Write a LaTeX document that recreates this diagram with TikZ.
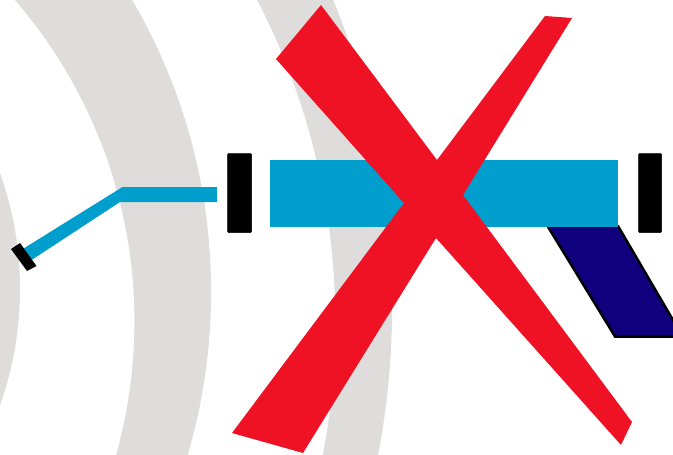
\documentclass[tikz,border=0pt]{standalone}
\usepackage{xcolor}
\definecolor{bandgrey}{RGB}{222, 221, 220}
\definecolor{barblue}{RGB}{0, 158, 204}
\definecolor{crossred}{RGB}{239, 17, 36}
\definecolor{armnavy}{RGB}{16, 0, 125}
\usepackage{tikz}

\begin{document}
\begin{tikzpicture}[
    x=1pt, y=-1pt,
    band/.style={fill=bandgrey, draw=none, even odd rule},
    barpart/.style={fill=barblue, draw=none},
    block/.style={fill=black, draw=black, line width=0.5pt, rounded corners=1pt},
    arm/.style={fill=armnavy, draw=black, line width=2.5pt},
    cross/.style={fill=crossred, draw=none}
]
\clip (0,0) rectangle (673,455);
\useasboundingbox (0,0) rectangle (673,455);

% Bands
\fill [band] (-326,289) circle [radius=346pt];
\fill [band] (-366.6,291.7) circle [radius=577.7pt] (-357.7,321.4) circle [radius=492.1pt];
\fill [band] (-419,304.1) circle [radius=811.2pt] (-366.7,322.3) circle [radius=702pt];

% Arm
\draw [arm] (547.5,226) -- (615,336.5) -- (680,336.5) -- (680,332) -- (618,226) -- cycle;

% Bar
\fill [barpart] (270,160) rectangle (618,227);
\fill [barpart] (217,187) -- (122.5,187) -- (22,249.5) -- (30,261) -- (120,202) -- (217,202) -- cycle;

% Blocks
\draw [block] (227.5,153.5) rectangle (251.5,232.5);
\draw [block] (638.5,153.5) rectangle (661.5,232.5);
\fill (11,249) -- (20,243) -- (36.5,266) -- (27,271) -- cycle;

% Cross
\fill [cross] (321,5) -- (437,160) -- (545,16) -- (572,18) -- (463,195) -- (632,422) -- (621,445) -- (436,238) -- (303,453) -- (232,433) -- (404,203) -- (276,59) -- cycle;

\end{tikzpicture}
\end{document}
